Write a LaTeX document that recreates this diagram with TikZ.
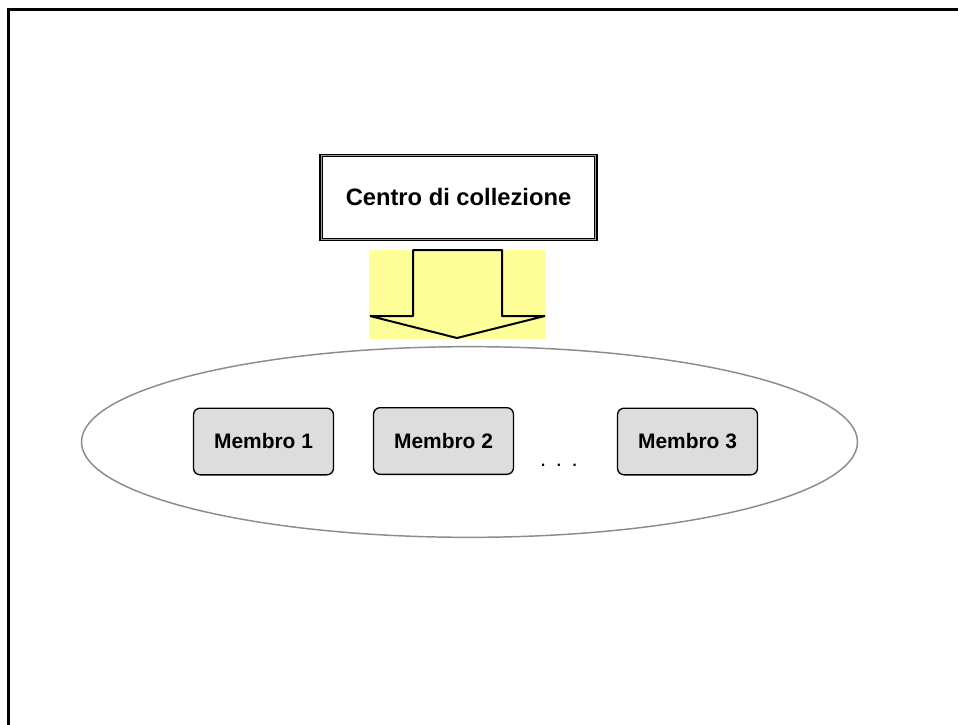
\documentclass[tikz,border=0pt]{standalone}
\usepackage{fontspec}
\setmainfont{Liberation Sans}
\usetikzlibrary{shapes.geometric}
\definecolor{paleyellow}{HTML}{FFFF99}
\definecolor{membergray}{HTML}{DDDDDD}
\definecolor{ringgray}{HTML}{8C8C8C}
\tikzset{
  centerbox/.style={draw=black, fill=white, line width=1.1pt, double=gray!75, double distance=0.6pt,
    minimum width=206pt, minimum height=63pt, inner sep=0pt,
    font=\fontsize{17.8pt}{20pt}\selectfont\bfseries},
  memberbox/.style={draw=black, fill=membergray, line width=1pt, rounded corners=5pt,
    minimum width=105pt, minimum height=50pt, inner sep=0pt,
    font=\fontsize{15.7pt}{18pt}\selectfont\bfseries},
  ring/.style={draw=ringgray, line width=1.1pt, ellipse, minimum width=582pt, minimum height=143pt, inner sep=0pt},
  bigarrow/.style={draw=black, line width=1.5pt, line join=bevel},
  frameline/.style={draw=black, line width=2.3pt}
}
\begin{document}
\begin{tikzpicture}[x=0.75pt, y=-0.75pt]
  \useasboundingbox (0,0) rectangle (958,725);
  % outer frame, open towards the right and bottom
  \draw[frameline] (8.5,730) -- (8.5,9.5) -- (965,9.5);

  % collection centre
  \node[centerbox] (centro) at (458.5,197.5) {Centro di collezione};

  % downward block arrow on a yellow field
  \fill[paleyellow] (369,250) rectangle (546,339);
  \coordinate (wl) at (370,316);
  \coordinate (sl) at (413,316);
  \coordinate (tl) at (413,250);
  \coordinate (tr) at (502,250);
  \coordinate (sr) at (502,316);
  \coordinate (wr) at (545,316);
  \coordinate (tip) at (457,338);
  \draw[bigarrow] (wl) -- (sl) -- (tl) -- (tr) -- (sr) -- (wr) -- (tip) -- cycle;

  % group of members
  \node[ring] (gruppo) at (469.5,442) {};
  \node[memberbox] (m1) at (263.5,441.5) {Membro 1};
  \node[memberbox] (m2) at (443.5,441) {Membro 2};
  \node[memberbox] (m3) at (687.5,441.5) {Membro 3};
  \node[font=\fontsize{16.5pt}{18pt}\selectfont, anchor=base] (dots) at (559,466) {.\hskip 7.2pt.\hskip 7.2pt.};
\end{tikzpicture}
\end{document}
